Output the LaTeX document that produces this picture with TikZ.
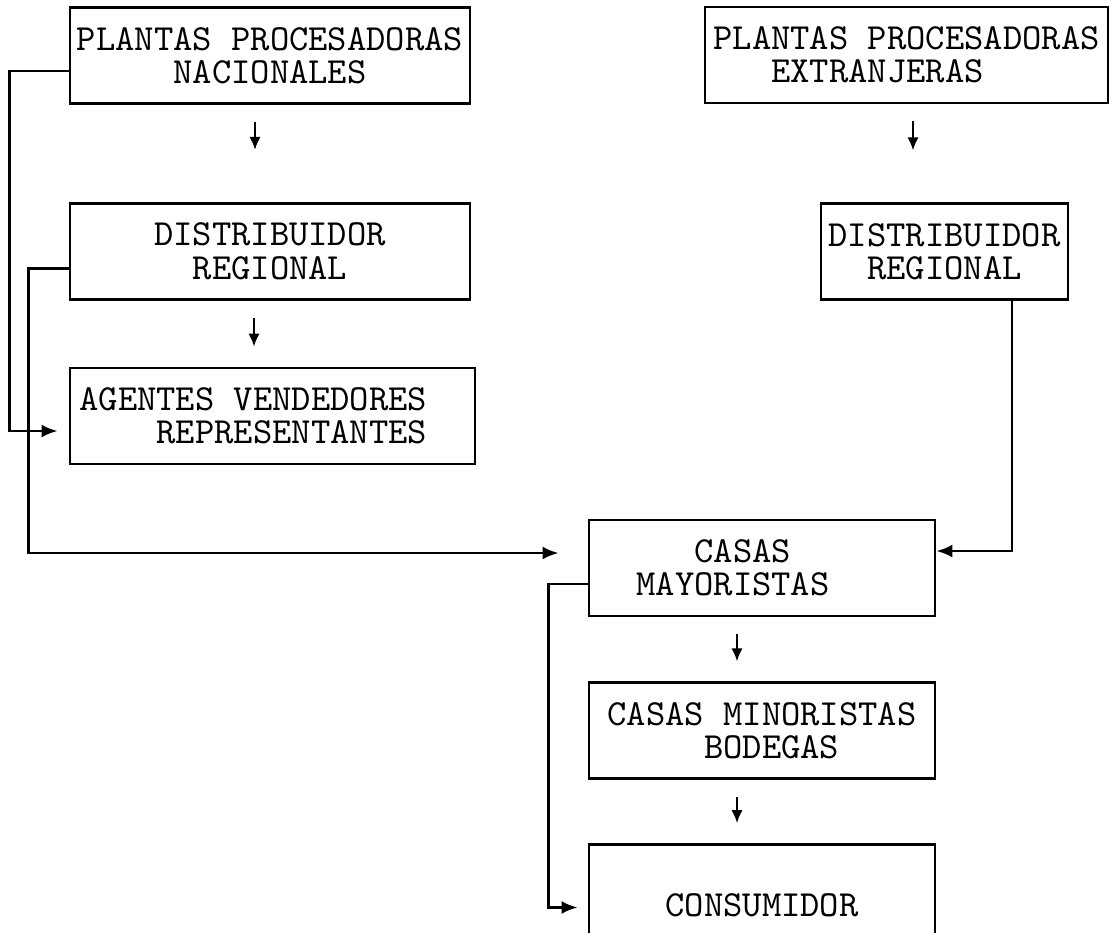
\documentclass[tikz,border=0pt]{standalone}
\usepackage{fontspec}
\usetikzlibrary{positioning,arrows.meta}

\tikzset{
  caja/.style={rectangle, draw, line width=0.75pt, minimum height=0.96cm, inner sep=0pt,
    font=\ttfamily\fontsize{10.46}{9.4}\selectfont},
  flecha/.style={-{Latex[length=1.3mm,width=1.15mm]}, line width=0.7pt, shorten <=1.7mm, shorten >=2mm},
  conector/.style={-{Latex[length=1.6mm,width=1.3mm]}, line width=0.75pt},
}

\begin{document}
\begin{tikzpicture}[x=0.01cm, y=-0.01cm]
        \useasboundingbox (0,0) rectangle (1118,932);
        \clip (0,0) rectangle (1118,932);

        % Nodes
        \node (pn) [caja, minimum width=4cm, align=center] at (270,55.5) {PLANTAS PROCESADORAS\\NACIONALES};
        \node (pe) [caja, minimum width=4.03cm, align=left] at (906.5,55) {PLANTAS PROCESADORAS\\\hphantom{EXT}EXTRANJERAS};
        \node (dn) [caja, minimum width=4cm, align=center, below=0.97cm of pn] {DISTRIBUIDOR\\REGIONAL};
        \node (de) [caja, minimum width=2.47cm, align=center, below=0.98cm of pe, xshift=0.38cm] {DISTRIBUIDOR\\REGIONAL};
        \node (av) [caja, minimum width=4.05cm, align=left, below=0.66cm of dn, xshift=0.025cm] {AGENTES VENDEDORES\hphantom{AA}\\\hphantom{AGEN}REPRESENTANTES};
        \node (cm) [caja, minimum width=3.46cm, align=left] at (762,568) {\hphantom{MAY}CASAS\\MAYORISTAS\hphantom{MAY}};
        \node (cmin) [caja, minimum width=3.46cm, align=left, below=0.64cm of cm] {CASAS MINORISTAS\\\hphantom{CASAS}BODEGAS};
        \node (con) [caja, minimum width=3.46cm, minimum height=1.22cm, below=0.63cm of cmin] {CONSUMIDOR};

        % Arrows
        \draw[flecha, shorten >=5.2mm] ([xshift=-1.5mm]pn.south) -- ([xshift=-1.5mm]dn.north);
        \draw[flecha, shorten >=5.2mm] ([xshift=0.65mm]pe.south) -- ([xshift=0.65mm]pe.south |- de.north);
        \draw[flecha] ([xshift=-1.6mm]dn.south) -- ([xshift=-1.6mm]dn.south |- av.north);
        \draw[flecha] ([xshift=-2.5mm]cm.south) -- ([xshift=-2.5mm]cmin.north);
        \draw[flecha] ([xshift=-2.5mm]cmin.south) -- ([xshift=-2.5mm]con.north);

        % Connectors
        \draw[conector, shorten >=1.1mm] ([yshift=-1.55mm]pn.west) -- ++(-0.59cm,0) |- ([yshift=-1.5mm]av.west);
        \draw[conector, shorten >=2.9mm] ([yshift=-1.75mm]dn.west) -- ++(-0.4cm,0) |- ([yshift=1.5mm]cm.west);
        \draw[conector] ([xshift=6.75mm]de.south) |- ([yshift=1.7mm]cm.east);
        \draw[conector, shorten >=1mm] ([yshift=-1.6mm]cm.west) -- ++(-0.39cm,0) |- ([yshift=-0.2mm]con.west);
\end{tikzpicture}
\end{document}
